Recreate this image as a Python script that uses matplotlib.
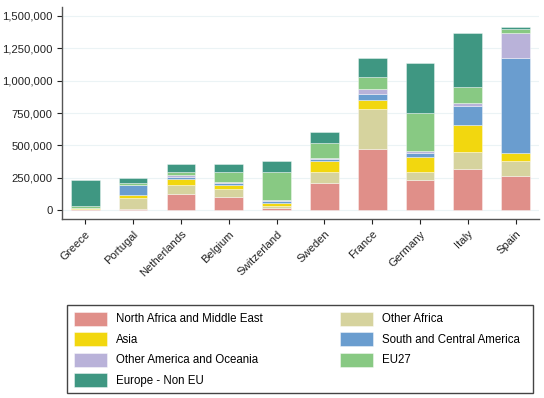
import matplotlib
matplotlib.use("Agg")
import matplotlib.pyplot as plt
import numpy as np
from matplotlib.ticker import FuncFormatter
from matplotlib.patches import Patch, Rectangle

plt.rcParams['font.family'] = ['Liberation Sans', 'DejaVu Sans']

countries = ["Greece", "Portugal", "Netherlands", "Belgium", "Switzerland",
             "Sweden", "France", "Germany", "Italy", "Spain"]

series_names = ["North Africa and Middle East", "Other Africa", "Asia",
                "South and Central America", "Other America and Oceania",
                "EU27", "Europe - Non EU"]

north_africa_me = [8000, 8000, 129000, 100000, 15000, 211000, 471000, 234000, 319000, 267000]
other_africa    = [5000, 88000, 62000, 62000, 18000, 87000, 311000, 62000, 134000, 116000]
asia            = [2000, 20000, 49000, 36000, 23000, 80000, 72000, 113000, 201000, 59000]
south_central_am = [2000, 75000, 18000, 10000, 13000, 15000, 39000, 33000, 147000, 733000]
other_am_oceania = [2000, 4000, 13000, 8000, 10000, 13000, 39000, 13000, 26000, 190000]
eu27            = [10000, 12000, 26000, 80000, 219000, 116000, 98000, 296000, 121000, 33000]
europe_non_eu   = [203000, 45000, 59000, 57000, 80000, 80000, 141000, 388000, 419000, 18000]

series = [north_africa_me, other_africa, asia, south_central_am,
          other_am_oceania, eu27, europe_non_eu]
colors = ["#e08f89", "#d6d39e", "#f2d70f", "#6a9dcf", "#b9b2d9", "#88c983", "#3f9782"]

W, H = 544, 398
fig = plt.figure(figsize=(W/100, H/100), dpi=100)
ax = fig.add_axes([62/W, 1-219.3/H, (538.7-62)/W, (219.3-6.7)/H])

x = np.arange(len(countries))
bottom = np.zeros(len(countries))
for vals, c in zip(series, colors):
    ax.bar(x, vals, width=0.6, bottom=bottom, color=c,
           edgecolor=(1, 1, 1, 0.45), linewidth=0.6, zorder=3)
    bottom += np.array(vals)

ax.set_xlim(-0.487, 9.483)
ax.set_ylim(-70000, 1570000)
ax.set_yticks([0, 250000, 500000, 750000, 1000000, 1250000, 1500000])
ax.yaxis.set_major_formatter(FuncFormatter(lambda v, p: f"{int(v):,}"))
ax.set_xticks(x)
ax.set_xticklabels(countries, rotation=45, ha='right', rotation_mode='anchor')
ax.tick_params(axis='both', labelsize=8.1, colors='#222222', length=3.8, width=0.8)
ax.tick_params(axis='y', pad=2.9)
ax.tick_params(axis='x', pad=3)
ax.grid(axis='y', color='#ebf3f5', linewidth=0.8, zorder=0)
ax.set_axisbelow(True)
for s in ['top', 'right']:
    ax.spines[s].set_visible(False)
for s in ['left', 'bottom']:
    ax.spines[s].set_color('#555555')
    ax.spines[s].set_linewidth(1.0)

# legend, row-wise order as in reference (col-major in matplotlib)
order = [0, 2, 4, 6, 1, 3, 5]
handles = [Patch(facecolor=colors[i], edgecolor=(1, 1, 1, 0.5), linewidth=0.6) for i in order]
labels = [series_names[i] for i in order]
leg = fig.legend(handles, labels, ncol=2, loc='upper left',
                 bbox_to_anchor=(67.3/W, 1-305/H), fontsize=8.3,
                 handlelength=2.86, handleheight=1.49, handletextpad=0.815,
                 columnspacing=6.64, labelspacing=0.564, borderpad=0.58,
                 borderaxespad=0, frameon=False)

# legend frame
fig.patches.append(Rectangle((67.3/W, 1-393/H), (532.5-67.3)/W, (393-305)/H,
                             transform=fig.transFigure, fill=False,
                             edgecolor='#444444', linewidth=1.0, zorder=5))

fig.savefig("out.png", dpi=100)
